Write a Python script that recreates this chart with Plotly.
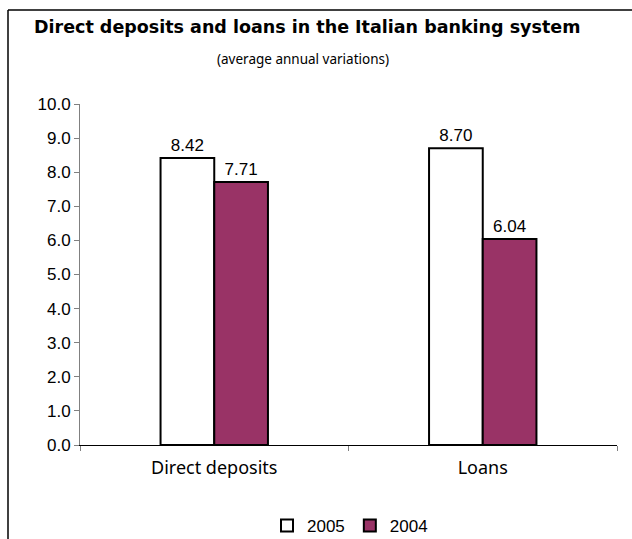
import plotly.graph_objects as go

categories = ["Direct deposits", "Loans"]
series_names = ["2005", "2004"]
values_2005 = [8.42, 8.70]
values_2004 = [7.71, 6.04]
y_ticks = [0, 1, 2, 3, 4, 5, 6, 7, 8, 9, 10]

W, H = 632, 539
L, R, T, B = 80, 15, 104, 94
pw, ph = W - L - R, H - T - B

num_font = dict(family="Liberation Sans, Arial", size=17, color="#000000")
txt_font = "Noto Sans, Tahoma, sans-serif"

fig = go.Figure()
fig.add_trace(go.Bar(
    x=categories, y=values_2005, name=series_names[0],
    marker=dict(color="#FFFFFF", line=dict(color="#000000", width=2)),
    texttemplate="%{y:.2f}", textposition="outside", textfont=num_font,
    cliponaxis=False,
))
fig.add_trace(go.Bar(
    x=categories, y=values_2004, name=series_names[1],
    marker=dict(color="#993366", line=dict(color="#000000", width=2)),
    texttemplate="%{y:.2f}", textposition="outside", textfont=num_font,
    cliponaxis=False,
))

def px_x(p):
    return (p - L) / pw

def px_y(p):
    return (H - B - p) / ph

shapes = [
    dict(type="line", xref="paper", yref="paper",
         x0=px_x(8), x1=px_x(W + 5), y0=px_y(10), y1=px_y(10),
         line=dict(color="#000000", width=1.5)),
    dict(type="line", xref="paper", yref="paper",
         x0=px_x(8), x1=px_x(8), y0=px_y(10), y1=px_y(H + 5),
         line=dict(color="#000000", width=1.5)),
]

fig.update_layout(
    width=W, height=H,
    margin=dict(l=L, r=R, t=T, b=B, pad=0, autoexpand=False),
    paper_bgcolor="#FFFFFF", plot_bgcolor="#FFFFFF",
    barmode="group", bargap=0.6, bargroupgap=0,
    showlegend=True,
    legend=dict(orientation="h", xref="container", yref="container",
                x=350 / W, y=1 - 526 / H, xanchor="center", yanchor="middle",
                font=dict(family="Liberation Sans, Arial", size=17, color="#000000"),
                itemwidth=30, tracegroupgap=0),
    shapes=shapes,
    annotations=[
        dict(text="<b>Direct deposits and loans in the Italian banking system</b>",
             xref="paper", yref="paper", x=px_x(307), y=px_y(27.5),
             xanchor="center", yanchor="middle", showarrow=False,
             font=dict(family="DejaVu Sans, Tahoma, sans-serif", size=17.5, color="#000000")),
        dict(text="(average annual variations)",
             xref="paper", yref="paper", x=px_x(303), y=px_y(59),
             xanchor="center", yanchor="middle", showarrow=False,
             font=dict(family=txt_font, size=13.5, color="#000000")),
    ],
)

fig.update_xaxes(
    type="category", showgrid=False, showline=True, linecolor="#000000", linewidth=1,
    ticks="outside", tickson="boundaries", ticklen=5, tickcolor="#808080",
    tickfont=dict(family=txt_font, size=18, color="#000000"),
    ticklabelstandoff=6,
)
fig.update_yaxes(
    range=[0, 10], tickvals=y_ticks, tickformat=".1f", showgrid=False,
    showline=True, linecolor="#808080", linewidth=1,
    ticks="outside", ticklen=5, tickcolor="#808080",
    tickfont=num_font, zeroline=False,
)

fig.write_html("out.html")
